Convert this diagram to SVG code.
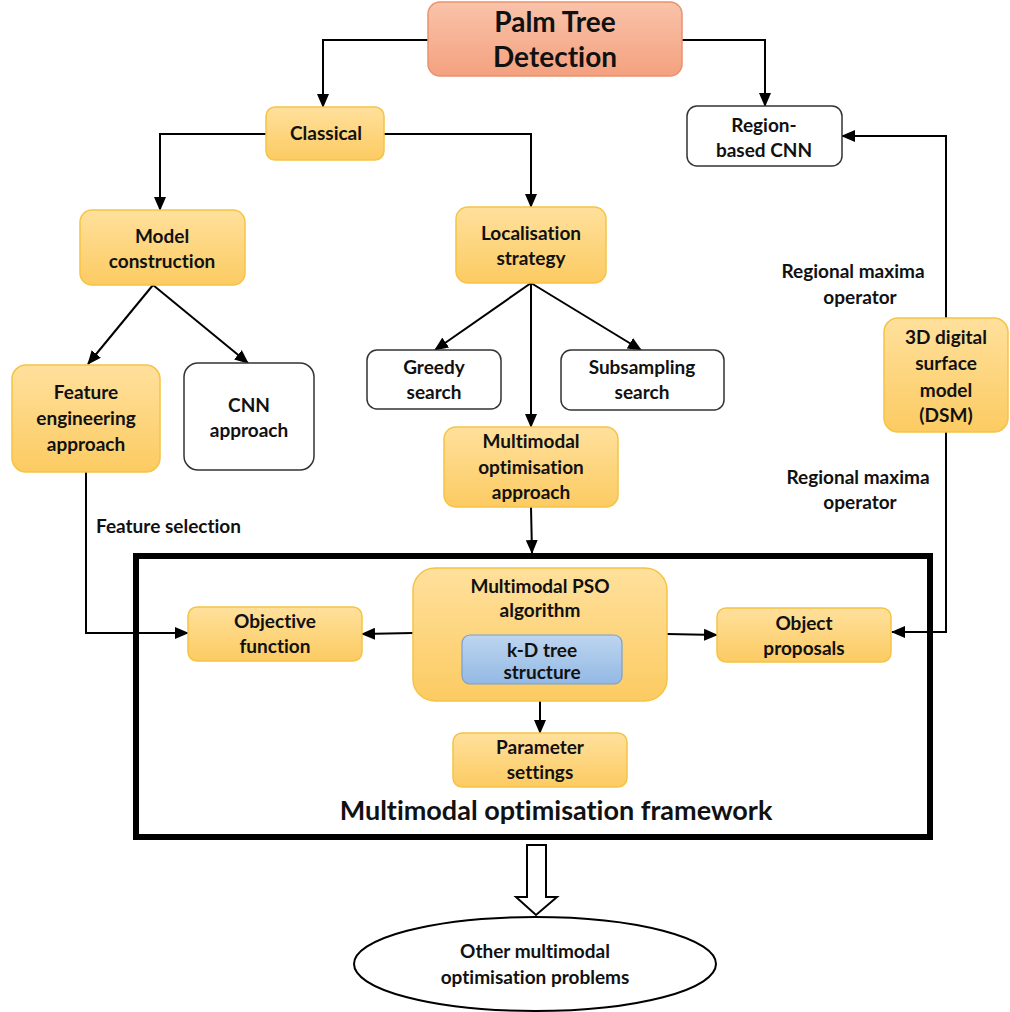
<svg xmlns="http://www.w3.org/2000/svg" width="1010" height="1012" viewBox="0 0 1010 1012">
<defs>
<linearGradient id="gOr" x1="0" y1="0" x2="0" y2="1"><stop offset="0" stop-color="#FFE09C"/><stop offset="1" stop-color="#FCCB62"/></linearGradient>
<linearGradient id="gSal" x1="0" y1="0" x2="0" y2="1"><stop offset="0" stop-color="#F9C3AA"/><stop offset="1" stop-color="#F4A17F"/></linearGradient>
<linearGradient id="gBl" x1="0" y1="0" x2="0" y2="1"><stop offset="0" stop-color="#BDD5F0"/><stop offset="1" stop-color="#93B9E4"/></linearGradient>
<marker id="ah" markerWidth="14" markerHeight="12" refX="13" refY="6" orient="auto" markerUnits="userSpaceOnUse"><path d="M0,0 L14,6 L0,12 Z" fill="#000"/></marker>
<style>
.or{fill:url(#gOr);stroke:#F5C446;stroke-width:1.5}
.wh{fill:#fff;stroke:#333;stroke-width:1.5}
.t{font-family:Lato,"Open Sans","Liberation Sans",sans-serif;font-weight:bold;font-size:19px;fill:#111;text-anchor:middle;font-variant-ligatures:none;font-feature-settings:"liga" 0}
.c{fill:none;stroke:#000;stroke-width:2;marker-end:url(#ah)}
.l{fill:none;stroke:#000;stroke-width:2}
</style>
</defs>

<g id="connectors">
<path class="c" d="M428,40 H323 V107"/>
<path class="c" d="M682,40 H765 V106"/>
<path class="c" d="M266,134 H160 V210"/>
<path class="c" d="M384,134 H531 V207"/>
<path class="c" d="M153,285 L88,364"/>
<path class="c" d="M153,285 L248,363"/>
<path class="c" d="M531,283 L435,350"/>
<path class="c" d="M531,283 L641,350"/>
<path class="c" d="M531,283 V427"/>
<path class="c" d="M531,507 L532,553"/>
<path class="c" d="M946,318 V136 H842"/>
<path class="c" d="M946,432 V632 H892"/>
<path class="c" d="M86,472 V633 H188"/>
<path class="c" d="M413,633 L362,634"/>
<path class="c" d="M667,634 L717,635"/>
<path class="c" d="M540,701 V733"/>
</g>

<g id="frame">
<rect x="136" y="556" width="794" height="281" fill="none" stroke="#000" stroke-width="6"/>
<text class="t" x="556" y="820" style="font-size:27px">Multimodal optimisation framework</text>
</g>

<g id="palm">
<rect x="428" y="2" width="254" height="74" rx="12" fill="url(#gSal)" stroke="#E8926F" stroke-width="1.5"/>
<text class="t" x="555" y="32" style="font-size:28px">Palm Tree</text>
<text class="t" x="555" y="67" style="font-size:28px">Detection</text>
</g>

<g id="classical">
<rect class="or" x="266" y="107" width="118" height="53" rx="9"/>
<text class="t" x="326" y="140">Classical</text>
</g>

<g id="rcnn">
<rect class="wh" x="687" y="106" width="155" height="60" rx="10"/>
<text class="t" x="764" y="132">Region-</text>
<text class="t" x="764" y="157">based CNN</text>
</g>

<g id="model">
<rect class="or" x="80" y="210" width="165" height="75" rx="12"/>
<text class="t" x="162" y="243">Model</text>
<text class="t" x="162" y="268">construction</text>
</g>

<g id="loc">
<rect class="or" x="456" y="207" width="150" height="76" rx="12"/>
<text class="t" x="531" y="240">Localisation</text>
<text class="t" x="531" y="265">strategy</text>
</g>

<g id="feat">
<rect class="or" x="12" y="365" width="148" height="107" rx="14"/>
<text class="t" x="86" y="399">Feature</text>
<text class="t" x="86" y="425">engineering</text>
<text class="t" x="86" y="451">approach</text>
</g>

<g id="cnn">
<rect class="wh" x="184" y="363" width="130" height="107" rx="14"/>
<text class="t" x="249" y="412">CNN</text>
<text class="t" x="249" y="437">approach</text>
</g>

<g id="greedy">
<rect class="wh" x="367" y="350" width="134" height="59" rx="10"/>
<text class="t" x="434" y="374">Greedy</text>
<text class="t" x="434" y="399">search</text>
</g>

<g id="subs">
<rect class="wh" x="561" y="350" width="163" height="60" rx="10"/>
<text class="t" x="642" y="374">Subsampling</text>
<text class="t" x="642" y="399">search</text>
</g>

<g id="mmapp">
<rect class="or" x="444" y="427" width="174" height="80" rx="12"/>
<text class="t" x="531" y="448">Multimodal</text>
<text class="t" x="531" y="474">optimisation</text>
<text class="t" x="531" y="499">approach</text>
</g>

<g id="dsm">
<rect class="or" x="884" y="318" width="124" height="114" rx="14"/>
<text class="t" x="946" y="344">3D digital</text>
<text class="t" x="946" y="370">surface</text>
<text class="t" x="946" y="397">model</text>
<text class="t" x="946" y="422">(DSM)</text>
</g>

<g id="labels">
<text class="t" x="853" y="278">Regional maxima</text>
<text class="t" x="860" y="304">operator</text>
<text class="t" x="858" y="484">Regional maxima</text>
<text class="t" x="860" y="509">operator</text>
<text class="t" x="96" y="533" style="text-anchor:start">Feature selection</text>
</g>

<g id="obj">
<rect class="or" x="188" y="607" width="174" height="54" rx="9"/>
<text class="t" x="275" y="628">Objective</text>
<text class="t" x="275" y="653">function</text>
</g>

<g id="pso">
<rect class="or" x="413" y="568" width="254" height="133" rx="22"/>
<text class="t" x="540" y="593">Multimodal PSO</text>
<text class="t" x="540" y="617">algorithm</text>
</g>

<g id="kd">
<rect x="462" y="635" width="160" height="49" rx="8" fill="url(#gBl)" stroke="#7A9ED0" stroke-width="1.2"/>
<text class="t" x="542" y="657">k-D tree</text>
<text class="t" x="542" y="679">structure</text>
</g>

<g id="objprop">
<rect class="or" x="717" y="608" width="174" height="54" rx="9"/>
<text class="t" x="804" y="630">Object</text>
<text class="t" x="804" y="655">proposals</text>
</g>

<g id="param">
<rect class="or" x="453" y="733" width="174" height="54" rx="9"/>
<text class="t" x="540" y="754">Parameter</text>
<text class="t" x="540" y="779">settings</text>
</g>

<g id="blockarrow">
<path d="M527,845 H546 V897 H557 L536,915 L516,897 H527 Z" fill="#fff" stroke="#000" stroke-width="2"/>
</g>

<g id="other">
<ellipse cx="535" cy="964" rx="181" ry="47" fill="#fff" stroke="#000" stroke-width="2"/>
<text class="t" x="535" y="958">Other multimodal</text>
<text class="t" x="535" y="984">optimisation problems</text>
</g>
</svg>
